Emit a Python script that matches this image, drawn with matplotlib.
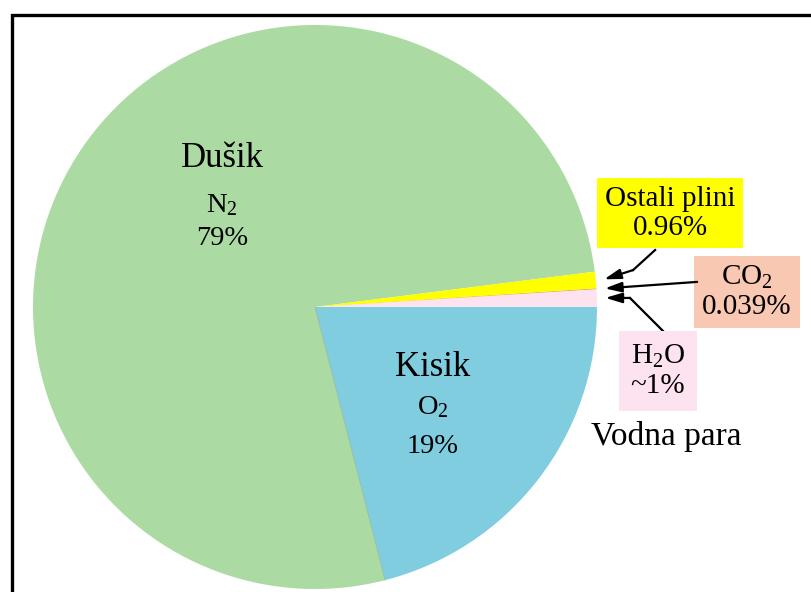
import numpy as np
import matplotlib
matplotlib.use("Agg")
import matplotlib.pyplot as plt
from matplotlib.patches import Rectangle

plt.rcParams['font.family'] = ['Liberation Serif', 'DejaVu Serif']
plt.rcParams['mathtext.fontset'] = 'custom'
plt.rcParams['mathtext.rm'] = 'Liberation Serif'
plt.rcParams['mathtext.it'] = 'Liberation Serif:italic'

# wedge sizes as drawn (percent), clockwise from 3 o'clock
gases = ['Kisik', 'Dušik', 'Ostali plini', 'CO2', 'H2O']
sizes = [21.0, 77.0, 0.96, 0.039, 1.0]
colors = ['#80cde0', '#abdaa3', '#ffff00', '#d9823f', '#fde3f0']

# label texts
n2_lines = ['Dušik', 'N$_2$', '79%']
o2_lines = ['Kisik', 'O$_2$', '19%']
other_label = 'Ostali plini\n0.96%'
co2_label = 'CO$_2$\n0.039%'
h2o_label = 'H$_2$O\n~1%'
h2o_name = 'Vodna para'

fig = plt.figure(figsize=(8.11, 5.92), dpi=100)
ax = fig.add_axes([0, 0, 1, 1])

wedges, _ = ax.pie(sizes, colors=colors, startangle=0, counterclock=False,
                   radius=1, center=(0, 0),
                   wedgeprops=dict(linewidth=0))
# faint line between nitrogen and oxygen
th = np.deg2rad(wedges[0].theta1)
ax.plot([0, np.cos(th)], [0, np.sin(th)], color='#8fb5a0', lw=0.5)

ax.set_xlim(-315 / 282, (811 - 315) / 282)
ax.set_ylim(-(592 - 307) / 282, 307 / 282)
ax.set_aspect('auto')
ax.axis('off')

# labels inside the big slices
for txt, y, fs in zip(n2_lines, [0.496, 0.337, 0.220], [25, 20.5, 20.5]):
    ax.text(-0.33, y, txt, ha='center', va='baseline', fontsize=fs)
for txt, y, fs in zip(o2_lines, [-0.245, -0.379, -0.517], [25, 20.5, 20.5]):
    ax.text(0.418, y, txt, ha='center', va='baseline', fontsize=fs)


def tip(w, r=1.03):
    a = np.deg2rad((w.theta1 + w.theta2) / 2)
    return (r * np.cos(a), r * np.sin(a))


arrow = dict(arrowstyle='-|>,head_length=1.0,head_width=0.3', lw=1.6,
             color='black', shrinkA=0, shrinkB=0)

# small slice callouts
ax.text(1.259, 0.333, other_label, ha='center', va='center', fontsize=21,
        linespacing=1.15,
        bbox=dict(boxstyle='square,pad=0.27', fc='#ffff00', ec='none'))
ax.plot([1.206, 1.128], [0.202, 0.131], color='black', lw=1.6)
ax.annotate('', xy=tip(wedges[2]), xytext=(1.128, 0.131), arrowprops=arrow)

ax.text(1.532, 0.053, co2_label, ha='center', va='center', fontsize=21,
        linespacing=1.15,
        bbox=dict(boxstyle='square,pad=0.27', fc='#f9c8b2', ec='none'))
ax.annotate('', xy=tip(wedges[3]), xytext=(1.355, 0.089), arrowprops=arrow)

ax.text(1.216, -0.227, h2o_label, ha='center', va='center', fontsize=21,
        linespacing=1.15,
        bbox=dict(boxstyle='square,pad=0.4', fc='#fde3f0', ec='none'))
ax.plot([1.241, 1.117], [-0.092, 0.032], color='black', lw=1.6)
ax.annotate('', xy=tip(wedges[4]), xytext=(1.117, 0.032), arrowprops=arrow)

ax.text(1.245, -0.489, h2o_name, ha='center', va='baseline', fontsize=24)

# outer frame (runs off right and bottom edge)
fig.add_artist(Rectangle((11.5 / 811, -0.1), 2, 1 - 14.5 / 592 + 0.1,
                         transform=fig.transFigure, fill=False,
                         ec='black', lw=2.4))

fig.savefig('out.png', dpi=100)
